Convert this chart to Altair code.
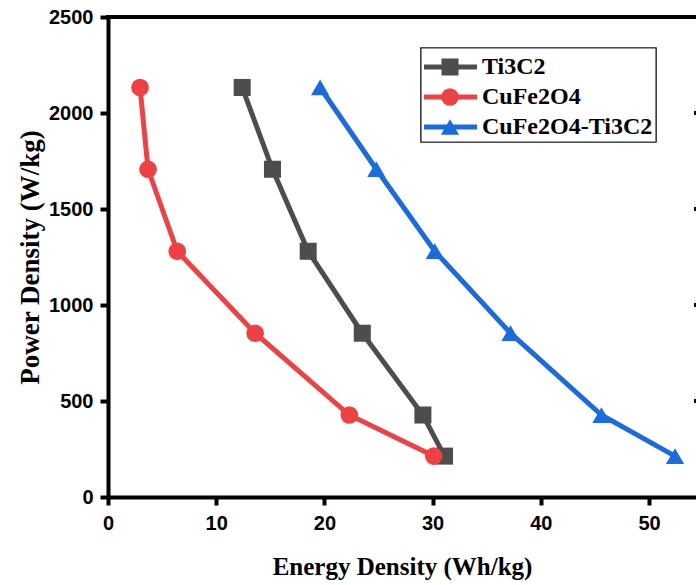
import altair as alt
import pandas as pd

series_names = ["Ti3C2", "CuFe2O4", "CuFe2O4-Ti3C2"]
colors = ["#4d4d4d", "#ef4044", "#1b6be0"]
shapes = ["square", "circle", "triangle-up"]
sizes = [290, 330, 600]

power = [2133, 1707, 1280, 853, 427, 213]
energy_ti3c2 = [12.4, 15.2, 18.5, 23.5, 29.1, 31.1]
energy_cufe2o4 = [2.96, 3.7, 6.4, 13.6, 22.3, 30.1]
energy_comp = [19.6, 24.8, 30.2, 37.2, 45.6, 52.4]

right_ticks = [500, 1000, 1500, 2000]

rows = []
for name, ens in zip(series_names, [energy_ti3c2, energy_cufe2o4, energy_comp]):
    for i, (e, p) in enumerate(zip(ens, power)):
        rows.append({"series": name, "energy": e, "power": p, "order": i})
df = pd.DataFrame(rows)

W, H = 588, 480
xs = alt.Scale(domain=[0, 54.34], nice=False, zero=False)
ys = alt.Scale(domain=[0, 2500], nice=False)
cs = alt.Scale(domain=series_names, range=colors)
shs = alt.Scale(domain=series_names, range=shapes)
szs = alt.Scale(domain=series_names, range=sizes)

xax = alt.Axis(title="Energy Density (Wh/kg)", values=[0, 10, 20, 30, 40, 50], format="d",
               grid=False, domainWidth=4, domainColor="black", tickWidth=4,
               tickColor="black", tickSize=8, labelFont="Liberation Sans",
               labelFontWeight="bold", labelFontSize=20, labelColor="black",
               labelPadding=8, labelFlush=False, titleFont="Liberation Serif",
               titleFontWeight="bold", titleFontSize=25, titleColor="black", titlePadding=21)
yax = alt.Axis(title="Power Density (W/kg)", values=[0, 500, 1000, 1500, 2000, 2500], format="d",
               grid=False, domainWidth=4, domainColor="black", tickWidth=4,
               tickColor="black", tickSize=8, labelFont="Liberation Sans",
               labelFontWeight="bold", labelFontSize=20, labelColor="black",
               labelPadding=7, labelFlush=False, titleFont="Liberation Serif",
               titleFontWeight="bold", titleFontSize=27, titleColor="black", titlePadding=4)

base = alt.Chart(df)
lines = base.mark_line(strokeWidth=5, clip=False).encode(
    x=alt.X("energy:Q", scale=xs, axis=xax),
    y=alt.Y("power:Q", scale=ys, axis=yax),
    color=alt.Color("series:N", scale=cs, legend=None),
    detail="series:N",
    order="order:Q",
)
pts = base.mark_point(filled=True, opacity=1, clip=False).encode(
    x=alt.X("energy:Q", scale=xs),
    y=alt.Y("power:Q", scale=ys),
    color=alt.Color("series:N", scale=cs, legend=None),
    shape=alt.Shape("series:N", scale=shs, legend=None),
    size=alt.Size("series:N", scale=szs, legend=None),
)

# inward ticks of the (off-image) right frame
rt = alt.Chart(pd.DataFrame({"p": right_ticks})).mark_rule(strokeWidth=4, color="black").encode(
    x=alt.value(W - 2), x2=alt.value(W), y=alt.Y("p:Q", scale=ys)
)
top = alt.Chart(pd.DataFrame({"a": [0]})).mark_rule(strokeWidth=4, color="black").encode(
    x=alt.value(-2), x2=alt.value(W), y=alt.value(0)
)

main = alt.layer(top, lines, pts, rt)

# legend
leg_df = pd.DataFrame({"series": series_names, "row": [0, 1, 2]})
legbox = alt.Chart(leg_df).mark_rect(fill="white", stroke="#333333", strokeWidth=1.2).encode(
    x=alt.value(421 - 108), x2=alt.value(656 - 108), y=alt.value(48 - 17), y2=alt.value(142 - 17)
)
leg_y = alt.Y("row:Q", scale=alt.Scale(domain=[0, 2], range=[67 - 17, 127 - 17]), axis=None)
leg_line = alt.Chart(leg_df).mark_rule(strokeWidth=5).encode(
    x=alt.value(424 - 108), x2=alt.value(477 - 108), y=leg_y,
    color=alt.Color("series:N", scale=cs, legend=None),
)
leg_pt = alt.Chart(leg_df).mark_point(filled=True, opacity=1).encode(
    x=alt.value(450 - 108), y=leg_y,
    color=alt.Color("series:N", scale=cs, legend=None),
    shape=alt.Shape("series:N", scale=shs, legend=None),
    size=alt.Size("series:N", scale=szs, legend=None),
)
leg_txt = alt.Chart(leg_df).mark_text(align="left", baseline="middle", font="Liberation Serif",
                                       fontWeight="bold", fontSize=24, color="black").encode(
    x=alt.value(482 - 108), y=leg_y, text="series:N"
)
legend = alt.layer(legbox, leg_line, leg_pt, leg_txt)

chart = alt.layer(main, legend).resolve_scale(
    y="independent"
).properties(
    width=W, height=H,
    autosize=alt.AutoSizeParams(type="none"),
    padding={"left": 108, "top": 17, "right": 0, "bottom": 88},
).configure_view(stroke=None)

chart.save("out.html", embed_options={"renderer": "svg", "actions": False})
